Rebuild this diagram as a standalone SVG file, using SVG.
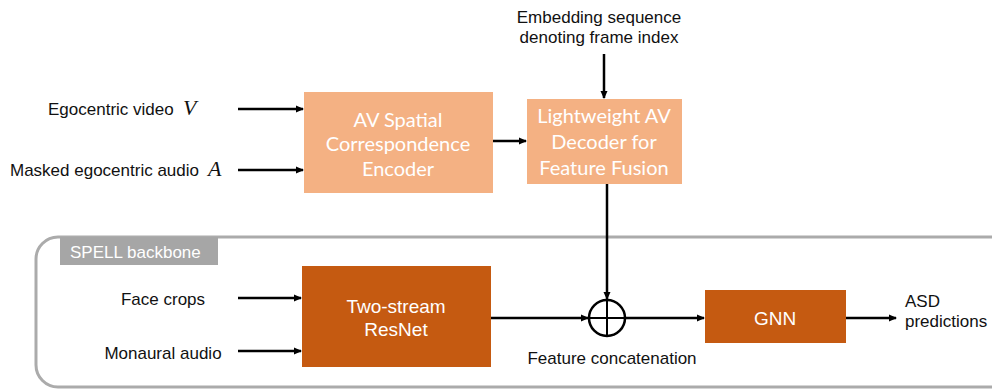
<svg xmlns="http://www.w3.org/2000/svg" width="992" height="389" viewBox="0 0 992 389">
<style>
.lbl{font-family:"Liberation Sans",Arial,sans-serif;font-size:17px;fill:#111}
.math{font-family:"Liberation Serif","Times New Roman",serif;font-style:italic;font-size:22px;fill:#111}
.light{fill:#F4B183}
.dark{fill:#C55A11}
.wt{font-family:Lato,"Open Sans",sans-serif;font-size:20px;fill:#fff;text-anchor:middle}
.wa{font-family:"Liberation Sans",Arial,sans-serif;font-size:19px;fill:#fff;text-anchor:middle}
.ln{stroke:#000;stroke-width:2.5;fill:none}
</style>
<defs>
<marker id="ah" markerWidth="8" markerHeight="8" refX="7" refY="4" orient="auto" markerUnits="userSpaceOnUse">
<path d="M0,0.5 L8,4 L0,7.5 Z" fill="#000"/>
</marker>
</defs>
<g id="spell">
<rect x="36" y="237" width="980" height="150" rx="22" fill="none" stroke="#ABABAB" stroke-width="3"/>
<rect x="60" y="237" width="158" height="28" fill="#A6A6A6"/>
<text x="70" y="258" font-family="Liberation Sans,Arial,sans-serif" font-size="17" fill="#fff">SPELL backbone</text>
</g>
<g id="inputs">
<text class="lbl" x="48" y="115">Egocentric video</text>
<text class="math" x="183" y="115">V</text>
<text class="lbl" x="10" y="176">Masked egocentric audio</text>
<text class="math" x="208" y="176">A</text>
<text class="lbl" x="163" y="305" text-anchor="middle">Face crops</text>
<text class="lbl" x="163" y="359" text-anchor="middle">Monaural audio</text>
<text class="lbl" x="599" y="23" text-anchor="middle">Embedding sequence</text>
<text class="lbl" x="599" y="43" text-anchor="middle">denoting frame index</text>
</g>
<g id="encoder">
<rect class="light" x="304" y="92" width="189" height="101"/>
<text class="wt" x="398" y="126.5">AV Spatial</text>
<text class="wt" x="398" y="151">Correspondence</text>
<text class="wt" x="398" y="175.5">Encoder</text>
</g>
<g id="decoder">
<rect class="light" x="527" y="99" width="155" height="85"/>
<text class="wt" x="604" y="123">Lightweight AV</text>
<text class="wt" x="604" y="149">Decoder for</text>
<text class="wt" x="604" y="175">Feature Fusion</text>
</g>
<g id="resnet">
<rect class="dark" x="302" y="266" width="189" height="101"/>
<text class="wa" x="396" y="313">Two-stream</text>
<text class="wa" x="396" y="336">ResNet</text>
</g>
<g id="concat">
<circle cx="607" cy="318" r="18" fill="#fff" stroke="#000" stroke-width="2.5"/>
<line x1="589" y1="318" x2="625" y2="318" stroke="#000" stroke-width="2"/>
<line x1="607" y1="300" x2="607" y2="336" stroke="#000" stroke-width="2"/>
<text class="lbl" x="612" y="364" text-anchor="middle">Feature concatenation</text>
</g>
<g id="gnn">
<rect class="dark" x="705" y="290" width="141" height="53"/>
<text class="wa" x="775" y="325">GNN</text>
</g>
<g id="output">
<text class="lbl" x="905" y="307">ASD</text>
<text class="lbl" x="905" y="327">predictions</text>
</g>
<g id="connectors">
<line class="ln" x1="238" y1="109" x2="303" y2="109" marker-end="url(#ah)"/>
<line class="ln" x1="238" y1="170" x2="303" y2="170" marker-end="url(#ah)"/>
<line class="ln" x1="493" y1="141" x2="526" y2="141" marker-end="url(#ah)"/>
<line class="ln" x1="604" y1="54" x2="604" y2="98" marker-end="url(#ah)"/>
<line class="ln" x1="607" y1="184" x2="607" y2="299" marker-end="url(#ah)"/>
<line class="ln" x1="238" y1="298" x2="301" y2="298" marker-end="url(#ah)"/>
<line class="ln" x1="238" y1="351" x2="301" y2="351" marker-end="url(#ah)"/>
<line class="ln" x1="491" y1="318" x2="588" y2="318" marker-end="url(#ah)"/>
<line class="ln" x1="625" y1="318" x2="704" y2="318" marker-end="url(#ah)"/>
<line class="ln" x1="846" y1="318" x2="896" y2="318" marker-end="url(#ah)"/>
</g>
</svg>
